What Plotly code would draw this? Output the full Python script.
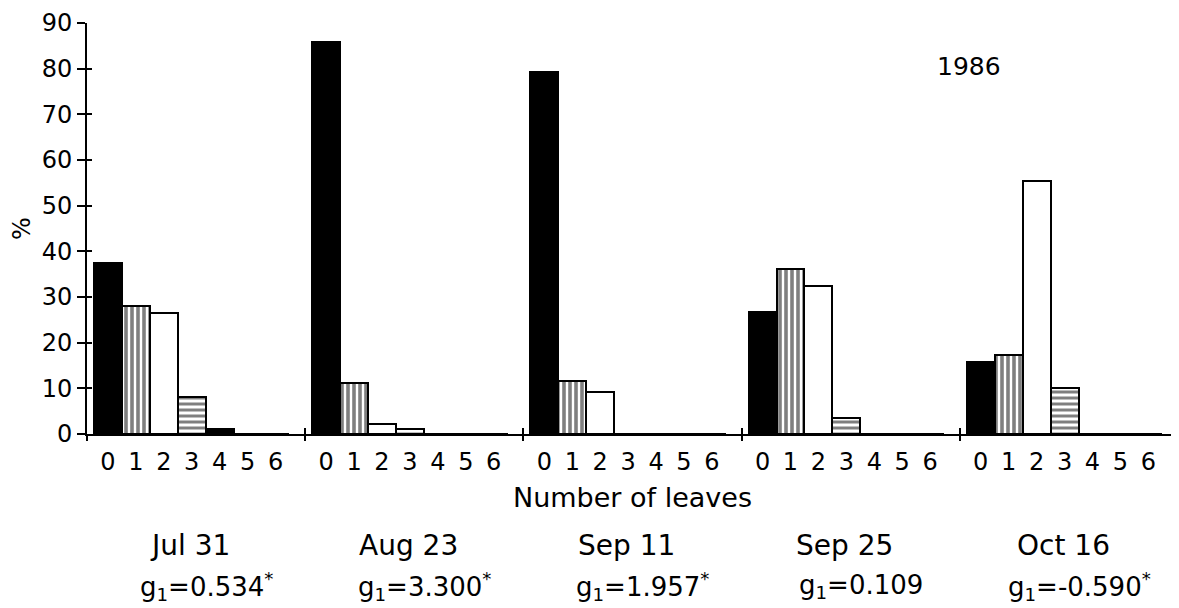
import plotly.graph_objects as go

# ---- data ----
dates = ["Jul 31", "Aug 23", "Sep 11", "Sep 25", "Oct 16"]
g1_values = ["0.534*", "3.300*", "1.957*", "0.109", "-0.590*"]
leaf_labels = ["0", "1", "2", "3", "4", "5", "6"]

pct_jul31 = [37.5, 28.0, 26.5, 8.0, 1.0, 0.0, 0.0]
pct_aug23 = [85.8, 11.2, 2.3, 1.0, 0.0, 0.0, 0.0]
pct_sep11 = [79.3, 11.5, 9.2, 0.0, 0.0, 0.0, 0.0]
pct_sep25 = [26.8, 36.2, 32.5, 3.5, 0.0, 0.0, 0.0]
pct_oct16 = [15.7, 17.2, 55.5, 10.0, 0.0, 0.0, 0.0]
year_label = "1986"

series = [pct_jul31, pct_aug23, pct_sep11, pct_sep25, pct_oct16]

# ---- layout helpers ----
GROUP = 7.5
OFF = 0.72
STEP = 0.96
FONT = "DejaVu Sans"

def pos(g, k):
    return g * GROUP + OFF + STEP * k

styles = [
    dict(color="black", pattern=dict(shape="")),
    dict(color="white", pattern=dict(shape="|", fgcolor="black", bgcolor="white", size=6, solidity=0.6)),
    dict(color="white", pattern=dict(shape="")),
    dict(color="white", pattern=dict(shape="-", fgcolor="black", bgcolor="white", size=6, solidity=0.5)),
    dict(color="black", pattern=dict(shape="")),
    dict(color="black", pattern=dict(shape="")),
    dict(color="black", pattern=dict(shape="")),
]

fig = go.Figure()
for k in range(len(leaf_labels)):
    xs = [pos(g, k) for g in range(len(dates))]
    ys = [s[k] for s in series]
    fig.add_trace(go.Bar(
        x=xs, y=ys, width=STEP,
        marker=dict(color=styles[k]["color"], pattern=styles[k]["pattern"],
                    line=dict(color="black", width=2)),
        showlegend=False, hoverinfo="skip",
    ))

xmax = GROUP * len(dates)
label_pos = [pos(g, k) for g in range(len(dates)) for k in range(len(leaf_labels))]
label_txt = [leaf_labels[k] for g in range(len(dates)) for k in range(len(leaf_labels))]
group_edges = [GROUP * g for g in range(len(dates) + 1)]
yticks = list(range(0, 91, 10))

# page body has an 8px margin, so the figure is 8px smaller than the window
fig.update_layout(
    width=1171, height=600,
    margin=dict(l=79, r=1, t=15, b=174),
    paper_bgcolor="white", plot_bgcolor="white",
    font=dict(family=FONT, color="black"),
    bargap=0,
    xaxis=dict(range=[0, xmax], showline=True, linecolor="black", linewidth=2,
               tickmode="array", tickvals=label_pos, ticktext=label_txt,
               ticks="", showgrid=False, zeroline=False, automargin=False,
               tickfont=dict(size=24, family=FONT), ticklabelstandoff=5),
    xaxis2=dict(range=[0, xmax], overlaying="x", anchor="y", side="bottom",
                tickmode="array", tickvals=group_edges, ticks="outside",
                ticklen=6, tickwidth=2, tickcolor="black", automargin=False,
                showticklabels=False, showgrid=False, zeroline=False, showline=False),
    xaxis3=dict(range=[0, xmax], overlaying="x", anchor="y", side="bottom",
                tickmode="array", tickvals=group_edges, ticks="inside",
                ticklen=6, tickwidth=2, tickcolor="black", automargin=False,
                showticklabels=False, showgrid=False, zeroline=False, showline=False),
    yaxis=dict(range=[0, 90], showline=True, linecolor="black", linewidth=2,
               tickmode="array", tickvals=yticks, ticks="outside", ticklen=8,
               tickwidth=2, tickcolor="black", showgrid=False, zeroline=False,
               automargin=False, tickfont=dict(size=24, family=FONT),
               title=dict(text="%", font=dict(size=24, family=FONT), standoff=4)),
    yaxis2=dict(range=[0, 90], overlaying="y", anchor="x", side="left",
                tickmode="array", tickvals=yticks, ticks="inside", ticklen=5,
                tickwidth=2, tickcolor="black", showticklabels=False, automargin=False,
                showgrid=False, zeroline=False, showline=False),
)

# invisible helpers so the overlay axes are drawn
fig.add_trace(go.Scatter(x=[0], y=[0], xaxis="x2", yaxis="y", mode="markers",
                         marker=dict(opacity=0), showlegend=False, hoverinfo="skip"))
fig.add_trace(go.Scatter(x=[0], y=[0], xaxis="x3", yaxis="y", mode="markers",
                         marker=dict(opacity=0), showlegend=False, hoverinfo="skip"))
fig.add_trace(go.Scatter(x=[0], y=[0], xaxis="x", yaxis="y2", mode="markers",
                         marker=dict(opacity=0), showlegend=False, hoverinfo="skip"))

annotations = [
    dict(text=year_label, x=30.3, y=80.5, xref="x", yref="y", showarrow=False,
         yanchor="middle", font=dict(size=25, family=FONT)),
    dict(text="Number of leaves", x=xmax / 2, y=-0.155, xref="x", yref="paper",
         yanchor="middle", showarrow=False, font=dict(size=27, family=FONT)),
]
for g, (d, v) in enumerate(zip(dates, g1_values)):
    cx = g * GROUP + GROUP / 2
    annotations.append(dict(text=d, x=cx - 0.2, y=-0.272, xref="x", yref="paper",
                            yanchor="middle", showarrow=False,
                            font=dict(size=28, family=FONT)))
    annotations.append(dict(text="g<sub>1</sub>=" + v.replace("*", "<sup>*</sup>"),
                            x=cx + 0.35, y=-0.372, xref="x", yref="paper",
                            yanchor="middle", showarrow=False,
                            font=dict(size=26, family=FONT)))
fig.update_layout(annotations=annotations)

fig.write_html("out.html")
